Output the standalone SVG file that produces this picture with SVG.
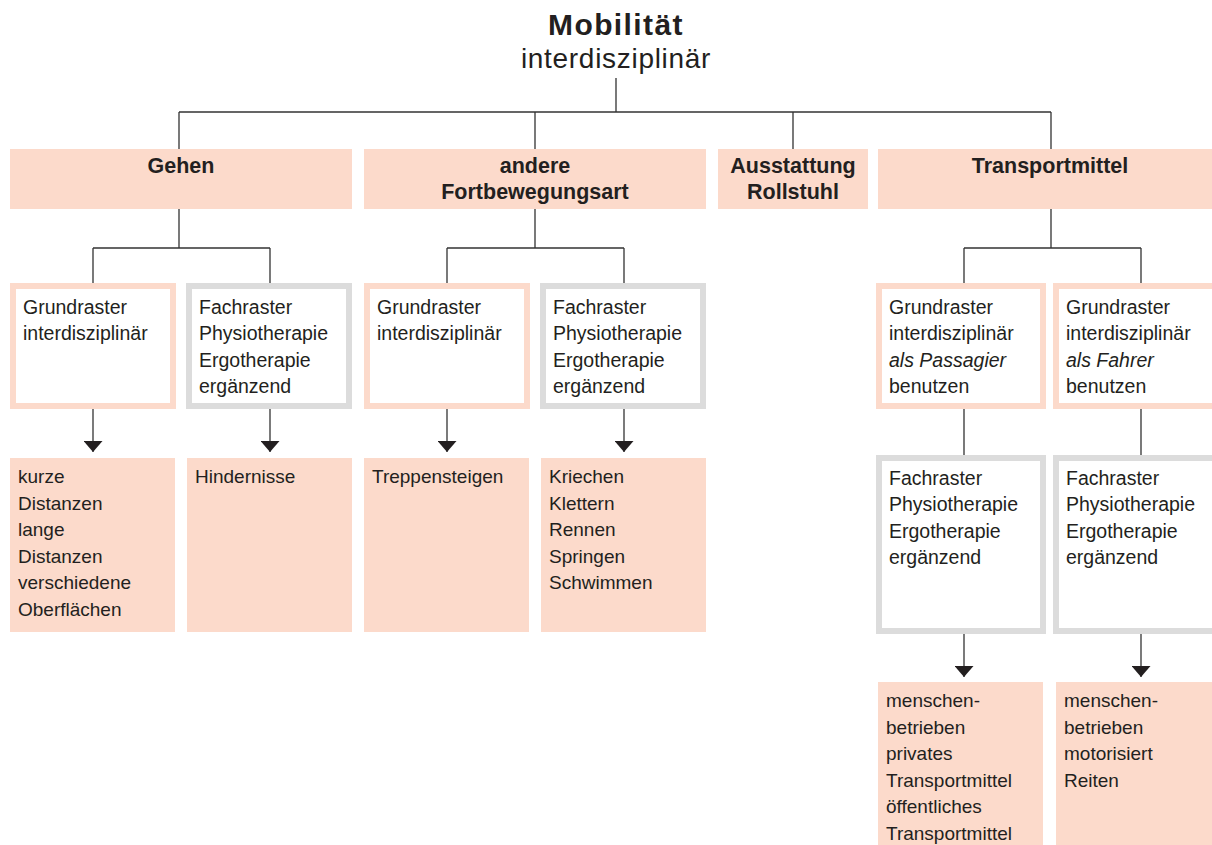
<svg xmlns="http://www.w3.org/2000/svg" width="1212" height="845" viewBox="0 0 1212 845">
<defs>
<style>
.t{font-family:"Liberation Sans",Arial,sans-serif;font-size:19.5px;fill:#231f20}
.lt{font-family:"Liberation Sans",Arial,sans-serif;font-size:19px;fill:#231f20}
.b{font-family:"Liberation Sans",Arial,sans-serif;font-size:21.5px;font-weight:bold;fill:#231f20;text-anchor:middle}
.pink{fill:#fcdacb}
.gr{fill:#fff;stroke:#fcdacb;stroke-width:6}
.fr{fill:#fff;stroke:#dcdcdc;stroke-width:6}
.c{stroke:#333;stroke-width:1.3;fill:none}
.a{stroke:#333;stroke-width:1.3;fill:none;marker-end:url(#arr)}
</style>
<marker id="arr" markerUnits="userSpaceOnUse" markerWidth="11" markerHeight="19" refX="11" refY="9.5" orient="auto" viewBox="0 0 11 19">
<path d="M0,0 L11,9.5 L0,19 Z" fill="#231f20"/>
</marker>
</defs>
<rect width="1212" height="845" fill="#fff"/>

<g id="root">
<text x="616" y="35" class="b" style="font-size:30px;letter-spacing:1.4px">Mobilität</text>
<text x="616" y="68" class="t" style="font-size:28px;text-anchor:middle;letter-spacing:0.7px">interdisziplinär</text>
</g>

<g id="connectors">
<path class="c" d="M616,78V112 M179,112H1051 M179,112V149 M535,112V149 M793,112V149 M1051,112V149"/>
<path class="c" d="M179,209V248 M93,248H270 M93,248V283 M270,248V283"/>
<path class="c" d="M535,209V248 M447,248H624 M447,248V283 M624,248V283"/>
<path class="c" d="M1051,209V248 M964,248H1141 M964,248V283 M1141,248V283"/>
<path class="c" d="M964,409V455 M1141,409V455"/>
<line class="a" x1="93" y1="409" x2="93" y2="452"/>
<line class="a" x1="270" y1="409" x2="270" y2="452"/>
<line class="a" x1="447" y1="409" x2="447" y2="452"/>
<line class="a" x1="624" y1="409" x2="624" y2="452"/>
<line class="a" x1="964" y1="634" x2="964" y2="677"/>
<line class="a" x1="1141" y1="634" x2="1141" y2="677"/>
</g>

<g id="gehen">
<rect class="pink" x="10" y="149" width="342" height="60"/>
<text class="b" x="181" y="173">Gehen</text>
</g>
<g id="andere">
<rect class="pink" x="364" y="149" width="342" height="60"/>
<text class="b" x="535" y="173">andere</text>
<text class="b" x="535" y="199">Fortbewegungsart</text>
</g>
<g id="ausstattung">
<rect class="pink" x="718" y="149" width="150" height="60"/>
<text class="b" x="793" y="173">Ausstattung</text>
<text class="b" x="793" y="199">Rollstuhl</text>
</g>
<g id="transportmittel">
<rect class="pink" x="878" y="149" width="344" height="60"/>
<text class="b" x="1050" y="173">Transportmittel</text>
</g>

<g id="gehen-grund">
<rect class="gr" x="13" y="286" width="160" height="120"/>
<text class="t" x="23" y="314">Grundraster</text>
<text class="t" x="23" y="340">interdisziplinär</text>
</g>
<g id="gehen-fach">
<rect class="fr" x="189" y="286" width="160" height="120"/>
<text class="t" x="199" y="314">Fachraster</text>
<text class="t" x="199" y="340">Physiotherapie</text>
<text class="t" x="199" y="367">Ergotherapie</text>
<text class="t" x="199" y="393">ergänzend</text>
</g>
<g id="andere-grund">
<rect class="gr" x="367" y="286" width="160" height="120"/>
<text class="t" x="377" y="314">Grundraster</text>
<text class="t" x="377" y="340">interdisziplinär</text>
</g>
<g id="andere-fach">
<rect class="fr" x="543" y="286" width="160" height="120"/>
<text class="t" x="553" y="314">Fachraster</text>
<text class="t" x="553" y="340">Physiotherapie</text>
<text class="t" x="553" y="367">Ergotherapie</text>
<text class="t" x="553" y="393">ergänzend</text>
</g>
<g id="tm-passagier">
<rect class="gr" x="879" y="286" width="164" height="120"/>
<text class="t" x="889" y="314">Grundraster</text>
<text class="t" x="889" y="340">interdisziplinär</text>
<text class="t" x="889" y="367" font-style="italic">als Passagier</text>
<text class="t" x="889" y="393">benutzen</text>
</g>
<g id="tm-fahrer">
<rect class="gr" x="1056" y="286" width="166" height="120"/>
<text class="t" x="1066" y="314">Grundraster</text>
<text class="t" x="1066" y="340">interdisziplinär</text>
<text class="t" x="1066" y="367" font-style="italic">als Fahrer</text>
<text class="t" x="1066" y="393">benutzen</text>
</g>
<g id="tm-passagier-fach">
<rect class="fr" x="879" y="458" width="164" height="173"/>
<text class="t" x="889" y="485">Fachraster</text>
<text class="t" x="889" y="511">Physiotherapie</text>
<text class="t" x="889" y="538">Ergotherapie</text>
<text class="t" x="889" y="564">ergänzend</text>
</g>
<g id="tm-fahrer-fach">
<rect class="fr" x="1056" y="458" width="166" height="173"/>
<text class="t" x="1066" y="485">Fachraster</text>
<text class="t" x="1066" y="511">Physiotherapie</text>
<text class="t" x="1066" y="538">Ergotherapie</text>
<text class="t" x="1066" y="564">ergänzend</text>
</g>

<g id="leaf-gehen-grund">
<rect class="pink" x="10" y="458" width="165" height="174"/>
<text class="lt" x="18" y="483">kurze</text>
<text class="lt" x="18" y="509.5">Distanzen</text>
<text class="lt" x="18" y="536">lange</text>
<text class="lt" x="18" y="562.5">Distanzen</text>
<text class="lt" x="18" y="589">verschiedene</text>
<text class="lt" x="18" y="615.5">Oberflächen</text>
</g>
<g id="leaf-gehen-fach">
<rect class="pink" x="187" y="458" width="165" height="174"/>
<text class="lt" x="195" y="483">Hindernisse</text>
</g>
<g id="leaf-andere-grund">
<rect class="pink" x="364" y="458" width="165" height="174"/>
<text class="lt" x="372" y="483">Treppensteigen</text>
</g>
<g id="leaf-andere-fach">
<rect class="pink" x="541" y="458" width="165" height="174"/>
<text class="lt" x="549" y="483">Kriechen</text>
<text class="lt" x="549" y="509.5">Klettern</text>
<text class="lt" x="549" y="536">Rennen</text>
<text class="lt" x="549" y="562.5">Springen</text>
<text class="lt" x="549" y="589">Schwimmen</text>
</g>
<g id="leaf-passagier">
<rect class="pink" x="878" y="682" width="165" height="163"/>
<text class="lt" x="886" y="707">menschen-</text>
<text class="lt" x="886" y="733.5">betrieben</text>
<text class="lt" x="886" y="760">privates</text>
<text class="lt" x="886" y="786.5">Transportmittel</text>
<text class="lt" x="886" y="813">öffentliches</text>
<text class="lt" x="886" y="839.5">Transportmittel</text>
</g>
<g id="leaf-fahrer">
<rect class="pink" x="1056" y="682" width="166" height="163"/>
<text class="lt" x="1064" y="707">menschen-</text>
<text class="lt" x="1064" y="733.5">betrieben</text>
<text class="lt" x="1064" y="760">motorisiert</text>
<text class="lt" x="1064" y="786.5">Reiten</text>
</g>
</svg>
